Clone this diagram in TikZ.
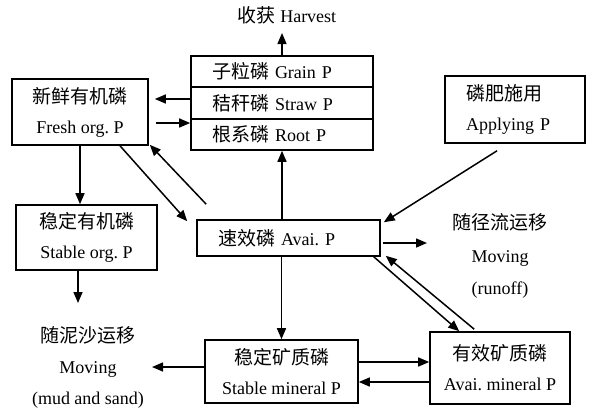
\documentclass[tikz,border=0pt]{standalone}
\usepackage{fontspec}
\setmainfont{Liberation Serif}
\newfontfamily\cjk{Noto Sans CJK SC}
\usetikzlibrary{arrows.meta}
\newcommand\zhtxt[1]{{\cjk\fontsize{19}{30}\selectfont #1}}
\frenchspacing
\tikzset{
  box/.style={draw, line width=1.6pt, rectangle, inner sep=0pt, align=center,
    font=\fontsize{18}{30}\selectfont},
  rowbox/.style={box, align=left, inner xsep=21pt, text width=140pt,
    minimum height=31pt},
  arr/.style={line width=1.5pt, -{Triangle[length=11pt,width=9pt]}},
  lbl/.style={align=center, inner sep=2pt, font=\fontsize{18}{31}\selectfont}
}
\begin{document}
\begin{tikzpicture}[x=1pt,y=-1pt]
\useasboundingbox (0,0) rectangle (594,408);
% boxes
\node[box, minimum width=136pt, minimum height=66pt] (fresh) at (80,112)
  {\zhtxt{新鲜有机磷}\\Fresh org. P};
\node[rowbox] (grain) at (282,71.5) {\zhtxt{子粒磷} Grain P};
\node[rowbox, minimum height=32pt] (straw) at (282,103) {\zhtxt{秸秆磷} Straw P};
\node[rowbox] (root) at (282,134.5) {\zhtxt{根系磷} Root P};
\node[box, align=left, inner xsep=21pt, text width=98pt, minimum height=67pt] (apply) at (515,109.5)
  {\zhtxt{磷肥施用}\\Applying P};
\node[box, minimum width=141pt, minimum height=65pt] (stableorg) at (86.5,237.5)
  {\zhtxt{稳定有机磷}\\Stable org. P};
\node[box, align=left, inner xsep=21pt, text width=141pt, minimum height=36pt] (avai) at (288.5,238)
  {\zhtxt{速效磷} Avai. P};
\node[box, minimum width=153pt, minimum height=63pt] (stablemin) at (281.5,371.5)
  {\zhtxt{稳定矿质磷}\\Stable mineral P};
\node[box, minimum width=140pt, minimum height=72pt] (avaimin) at (500,368)
  {\zhtxt{有效矿质磷}\\Avai. mineral P};
% labels
\node[lbl] (harvest) at (287,15) {\zhtxt{收获} Harvest};
\node[lbl, font=\fontsize{18}{32.5}\selectfont] (runoff) at (500,256)
  {\zhtxt{随径流运移}\\Moving\\(runoff)};
\node[lbl] (mud) at (88,367) {\zhtxt{随泥沙运移}\\Moving\\(mud and sand)};
% free ends
\coordinate (harvtip) at (282,33);
\coordinate (mudtip) at (78,303);
\coordinate (runtip) at (427,243);
\coordinate (mudside) at (152,367);
% connectors
\draw[arr] (grain.north -| harvtip) -- (harvtip);
\draw[arr, shorten >=6pt] (straw.west |- 0,99) -- (fresh.east |- 0,99);
\draw[arr, shorten <=7pt] (fresh.east |- 0,123) -- (root.west |- 0,123);
\draw[arr] (fresh.south) -- (fresh.south |- stableorg.north);
\draw[arr] (stableorg.south -| mudtip) -- (mudtip);
\draw[arr] (fresh.south -| 120,0) -- ([shift={(-9,2)}]avai.north west);
\draw[arr] ([shift={(10,-15)}]avai.north west) -- ([shift={(1,-1)}]fresh.south east);
\draw[arr] ([shift={(-18,7)}]apply.south) -- ([shift={(3,3)}]avai.north east);
\draw[arr] (root.south |- avai.north) -- (root.south);
\draw[arr] ([xshift=2pt]avai.east |- runtip) -- (runtip);
\draw[arr] (avai.south -| stablemin.north) -- (stablemin.north);
\draw[arr] ([xshift=-7pt]avai.south east) -- ([xshift=30pt]avaimin.north west);
\draw[arr] ([shift={(45,-2)}]avaimin.north west) -- ([shift={(5,-1)}]avai.south east);
\draw[arr] (stablemin.east |- 0,362) -- (avaimin.west |- 0,362);
\draw[arr] (avaimin.west |- 0,382) -- (stablemin.east |- 0,382);
\draw[arr] (stablemin.west |- mudside) -- (mudside);
\end{tikzpicture}
\end{document}
